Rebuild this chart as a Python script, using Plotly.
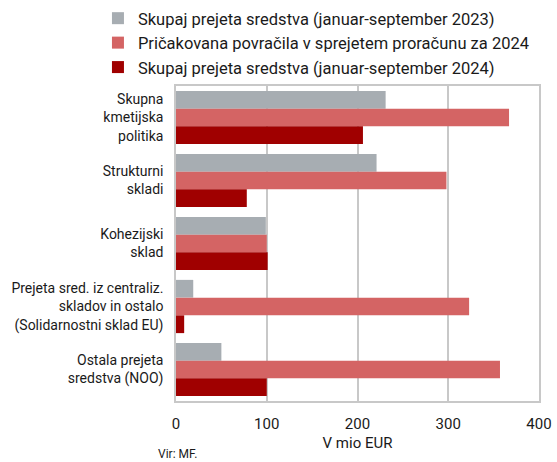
"""Prejeta sredstva iz proračuna EU - horizontal grouped bars."""
import plotly.graph_objects as go

# Data (mio EUR)
categories = [
    'Skupna<br>kmetijska<br>politika',
    'Strukturni<br>skladi',
    'Kohezijski<br>sklad',
    'Prejeta sred. iz centraliz.<br>skladov in ostalo<br>(Solidarnostni sklad EU)',
    'Ostala prejeta<br>sredstva (NOO)',
]
series_names = [
    'Skupaj prejeta sredstva (januar-september 2023)',
    'Pričakovana povračila v sprejetem proračunu za 2024',
    'Skupaj prejeta sredstva (januar-september 2024)',
]
received_2023 = [231, 221, 99, 19, 50]
expected_2024 = [367, 298, 100, 323, 357]
received_2024 = [206, 78, 101, 9, 100]
x_ticks = [0, 100, 200, 300, 400]

colors = ['#A7ADB2', '#D46464', '#A00000']
FONT = 'Roboto'

fig = go.Figure()
for name, vals, col in zip(series_names,
                           [received_2023, expected_2024, received_2024],
                           colors):
    fig.add_trace(go.Bar(
        y=categories, x=vals, name=name, orientation='h',
        marker=dict(color=col, line=dict(width=0)),
    ))

fig.update_layout(
    width=557, height=462,
    barmode='group', bargap=0.155, bargroupgap=0,
    plot_bgcolor='white', paper_bgcolor='white',
    margin=dict(l=176, r=18, t=86, b=61, autoexpand=False),
    font=dict(family=FONT, color='#1a1a1a', size=14),
    showlegend=True,
    legend=dict(
        x=-0.215, xanchor='left',
        y=1.27, yanchor='top',
        font=dict(size=16.5), traceorder='normal',
        bgcolor='rgba(0,0,0,0)', itemwidth=30,
    ),
)
fig.update_xaxes(
    range=[0, 400], tickvals=x_ticks, tickfont=dict(size=15),
    showgrid=True, gridcolor='#C8C8C8', gridwidth=1.5,
    showline=True, linecolor='#C8C8C8', linewidth=1.5, mirror=True,
    zeroline=False, ticklabelstandoff=8,
    title=dict(text='V mio EUR', font=dict(size=15), standoff=6),
)
fig.update_yaxes(
    autorange='reversed', tickfont=dict(size=14),
    showline=True, linecolor='#C8C8C8', linewidth=1.5, mirror=True,
    ticklabelstandoff=8,
)
fig.add_annotation(
    text='Vir: MF.', xref='paper', yref='paper', x=-0.055, y=-0.14,
    xanchor='left', yanchor='top', showarrow=False, font=dict(size=12),
)

# drop the default page margin so the figure sits at the window's corner
fig.write_html('out.html', config={'displayModeBar': False},
               post_script="document.body.style.margin='0';")
